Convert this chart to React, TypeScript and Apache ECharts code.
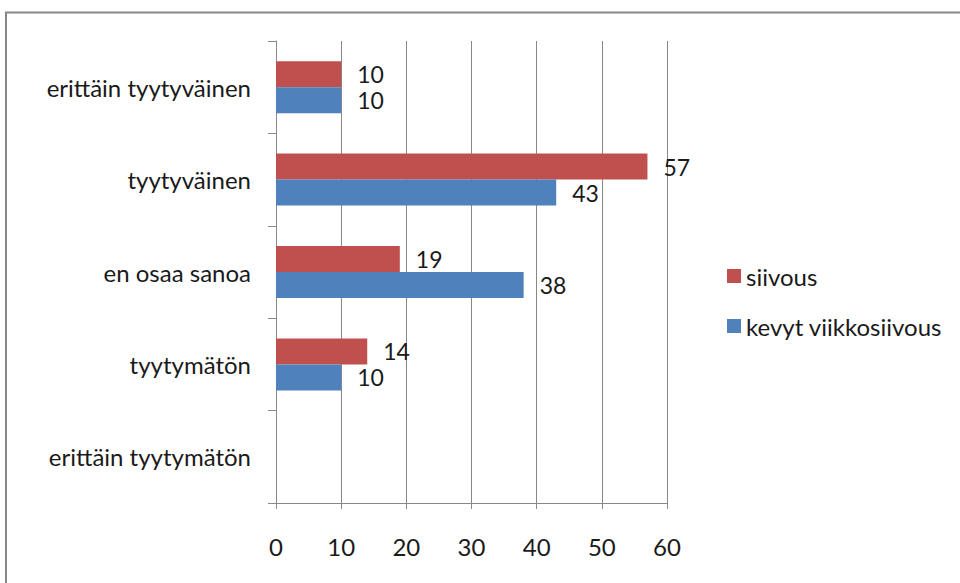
import React, { useEffect, useRef } from "react";
import * as echarts from "echarts";

const categories = [
  "erittäin tyytyväinen",
  "tyytyväinen",
  "en osaa sanoa",
  "tyytymätön",
  "erittäin tyytymätön",
];
const siivous: (number | null)[] = [10, 57, 19, 14, null];
const kevyt: (number | null)[] = [10, 43, 38, 10, null];
const seriesNames = ["siivous", "kevyt viikkosiivous"];

const FONT = "Lato, 'Open Sans', sans-serif";
const FS = 24;

export default function App() {
  const ref = useRef<HTMLDivElement>(null);
  useEffect(() => {
    const chart = echarts.init(ref.current!, null, { renderer: "svg" });
    const label = {
      show: true,
      position: "right" as const,
      distance: 16,
      color: "#1a1a1a",
      fontSize: 23,
      lineHeight: 24,
      fontFamily: FONT,
    };
    chart.setOption({
      animation: false,
      backgroundColor: "#ffffff",
      grid: { left: 276, top: 41, width: 391, height: 462 },
      legend: {
        orient: "vertical",
        left: 722,
        top: 259,
        itemWidth: 14,
        itemHeight: 14,
        itemGap: 26,
        icon: "rect",
        textStyle: { fontSize: FS, lineHeight: 24, fontFamily: FONT, color: "#1a1a1a" },
        data: seriesNames,
      },
      xAxis: {
        type: "value",
        min: 0,
        max: 60,
        interval: 10,
        axisLine: { show: true, lineStyle: { color: "#888888", width: 1 } },
        axisTick: { show: true, length: 6, lineStyle: { color: "#888888" } },
        axisLabel: { margin: 31, fontSize: FS, fontFamily: FONT, color: "#1a1a1a" },
        splitLine: { show: true, lineStyle: { color: "#888888", width: 1 } },
      },
      yAxis: {
        type: "category",
        inverse: true,
        data: categories,
        axisLine: { show: true, lineStyle: { color: "#888888", width: 1 } },
        axisTick: { show: true, length: 8, lineStyle: { color: "#888888" } },
        axisLabel: { margin: 25, fontSize: FS, fontFamily: FONT, color: "#1a1a1a" },
      },
      series: [
        {
          name: seriesNames[0],
          type: "bar",
          data: siivous,
          barWidth: 26,
          barGap: "0%",
          itemStyle: { color: "#C0504D" },
          label,
        },
        {
          name: seriesNames[1],
          type: "bar",
          data: kevyt,
          barWidth: 26,
          barGap: "0%",
          itemStyle: { color: "#4F81BD" },
          label,
        },
      ],
      graphic: [
        {
          type: "rect",
          shape: { x: 6, y: 12.5, width: 1000, height: 700 },
          style: { fill: "none", stroke: "#878787", lineWidth: 2 },
          silent: true,
        },
      ],
    });
    return () => chart.dispose();
  }, []);
  return (
    <div
      ref={ref}
      style={{ position: "fixed", left: 0, top: 0, width: 960, height: 583 }}
    />
  );
}
